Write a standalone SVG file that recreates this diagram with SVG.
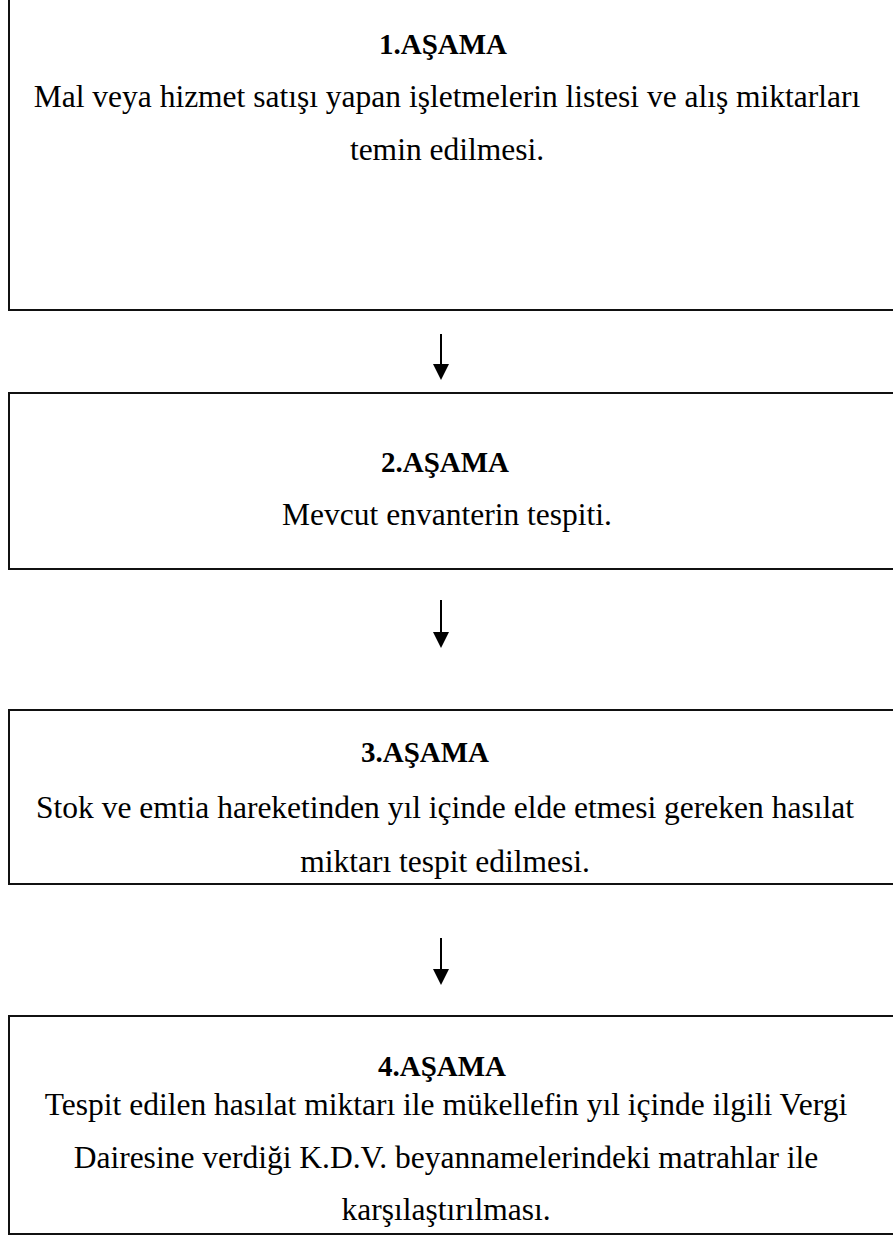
<svg xmlns="http://www.w3.org/2000/svg" width="893" height="1245" viewBox="0 0 893 1245">
<style>
.box{fill:#fff;stroke:#111;stroke-width:2}
.t{font-family:"Liberation Serif","Times New Roman",serif;font-size:31.5px;fill:#000;text-anchor:middle}
.h{font-weight:bold;font-size:29px}
.c{stroke:#000;stroke-width:2;fill:none}
</style>
<rect width="893" height="1245" fill="#fff"/>
<g id="node1">
<rect class="box" x="9" y="-10" width="900" height="320"/>
<text class="t h" x="443" y="54">1.AŞAMA</text>
<text class="t" x="447" y="107">Mal veya hizmet satışı yapan işletmelerin listesi ve alış miktarları</text>
<text class="t" x="447" y="160">temin edilmesi.</text>
</g>
<g id="node2">
<rect class="box" x="9" y="393" width="900" height="176"/>
<text class="t h" x="445" y="472">2.AŞAMA</text>
<text class="t" x="447" y="525">Mevcut envanterin tespiti.</text>
</g>
<g id="node3">
<rect class="box" x="9" y="710" width="900" height="174"/>
<text class="t h" x="425" y="762">3.AŞAMA</text>
<text class="t" x="445" y="818">Stok ve emtia hareketinden yıl içinde elde etmesi gereken hasılat</text>
<text class="t" x="445" y="872">miktarı tespit edilmesi.</text>
</g>
<g id="node4">
<rect class="box" x="9" y="1016" width="900" height="218"/>
<text class="t h" x="442" y="1076">4.AŞAMA</text>
<text class="t" x="446" y="1115">Tespit edilen hasılat miktarı ile mükellefin yıl içinde ilgili Vergi</text>
<text class="t" x="446" y="1168">Dairesine verdiği K.D.V. beyannamelerindeki matrahlar ile</text>
<text class="t" x="446" y="1220">karşılaştırılması.</text>
</g>
<g id="connectors">
<line class="c" x1="441" y1="334" x2="441" y2="366"/>
<path d="M433,364 L449,364 L441,380 Z" fill="#000"/>
<line class="c" x1="441" y1="600" x2="441" y2="634"/>
<path d="M433,632 L449,632 L441,648 Z" fill="#000"/>
<line class="c" x1="441" y1="938" x2="441" y2="971"/>
<path d="M433,969 L449,969 L441,985 Z" fill="#000"/>
</g>
</svg>
